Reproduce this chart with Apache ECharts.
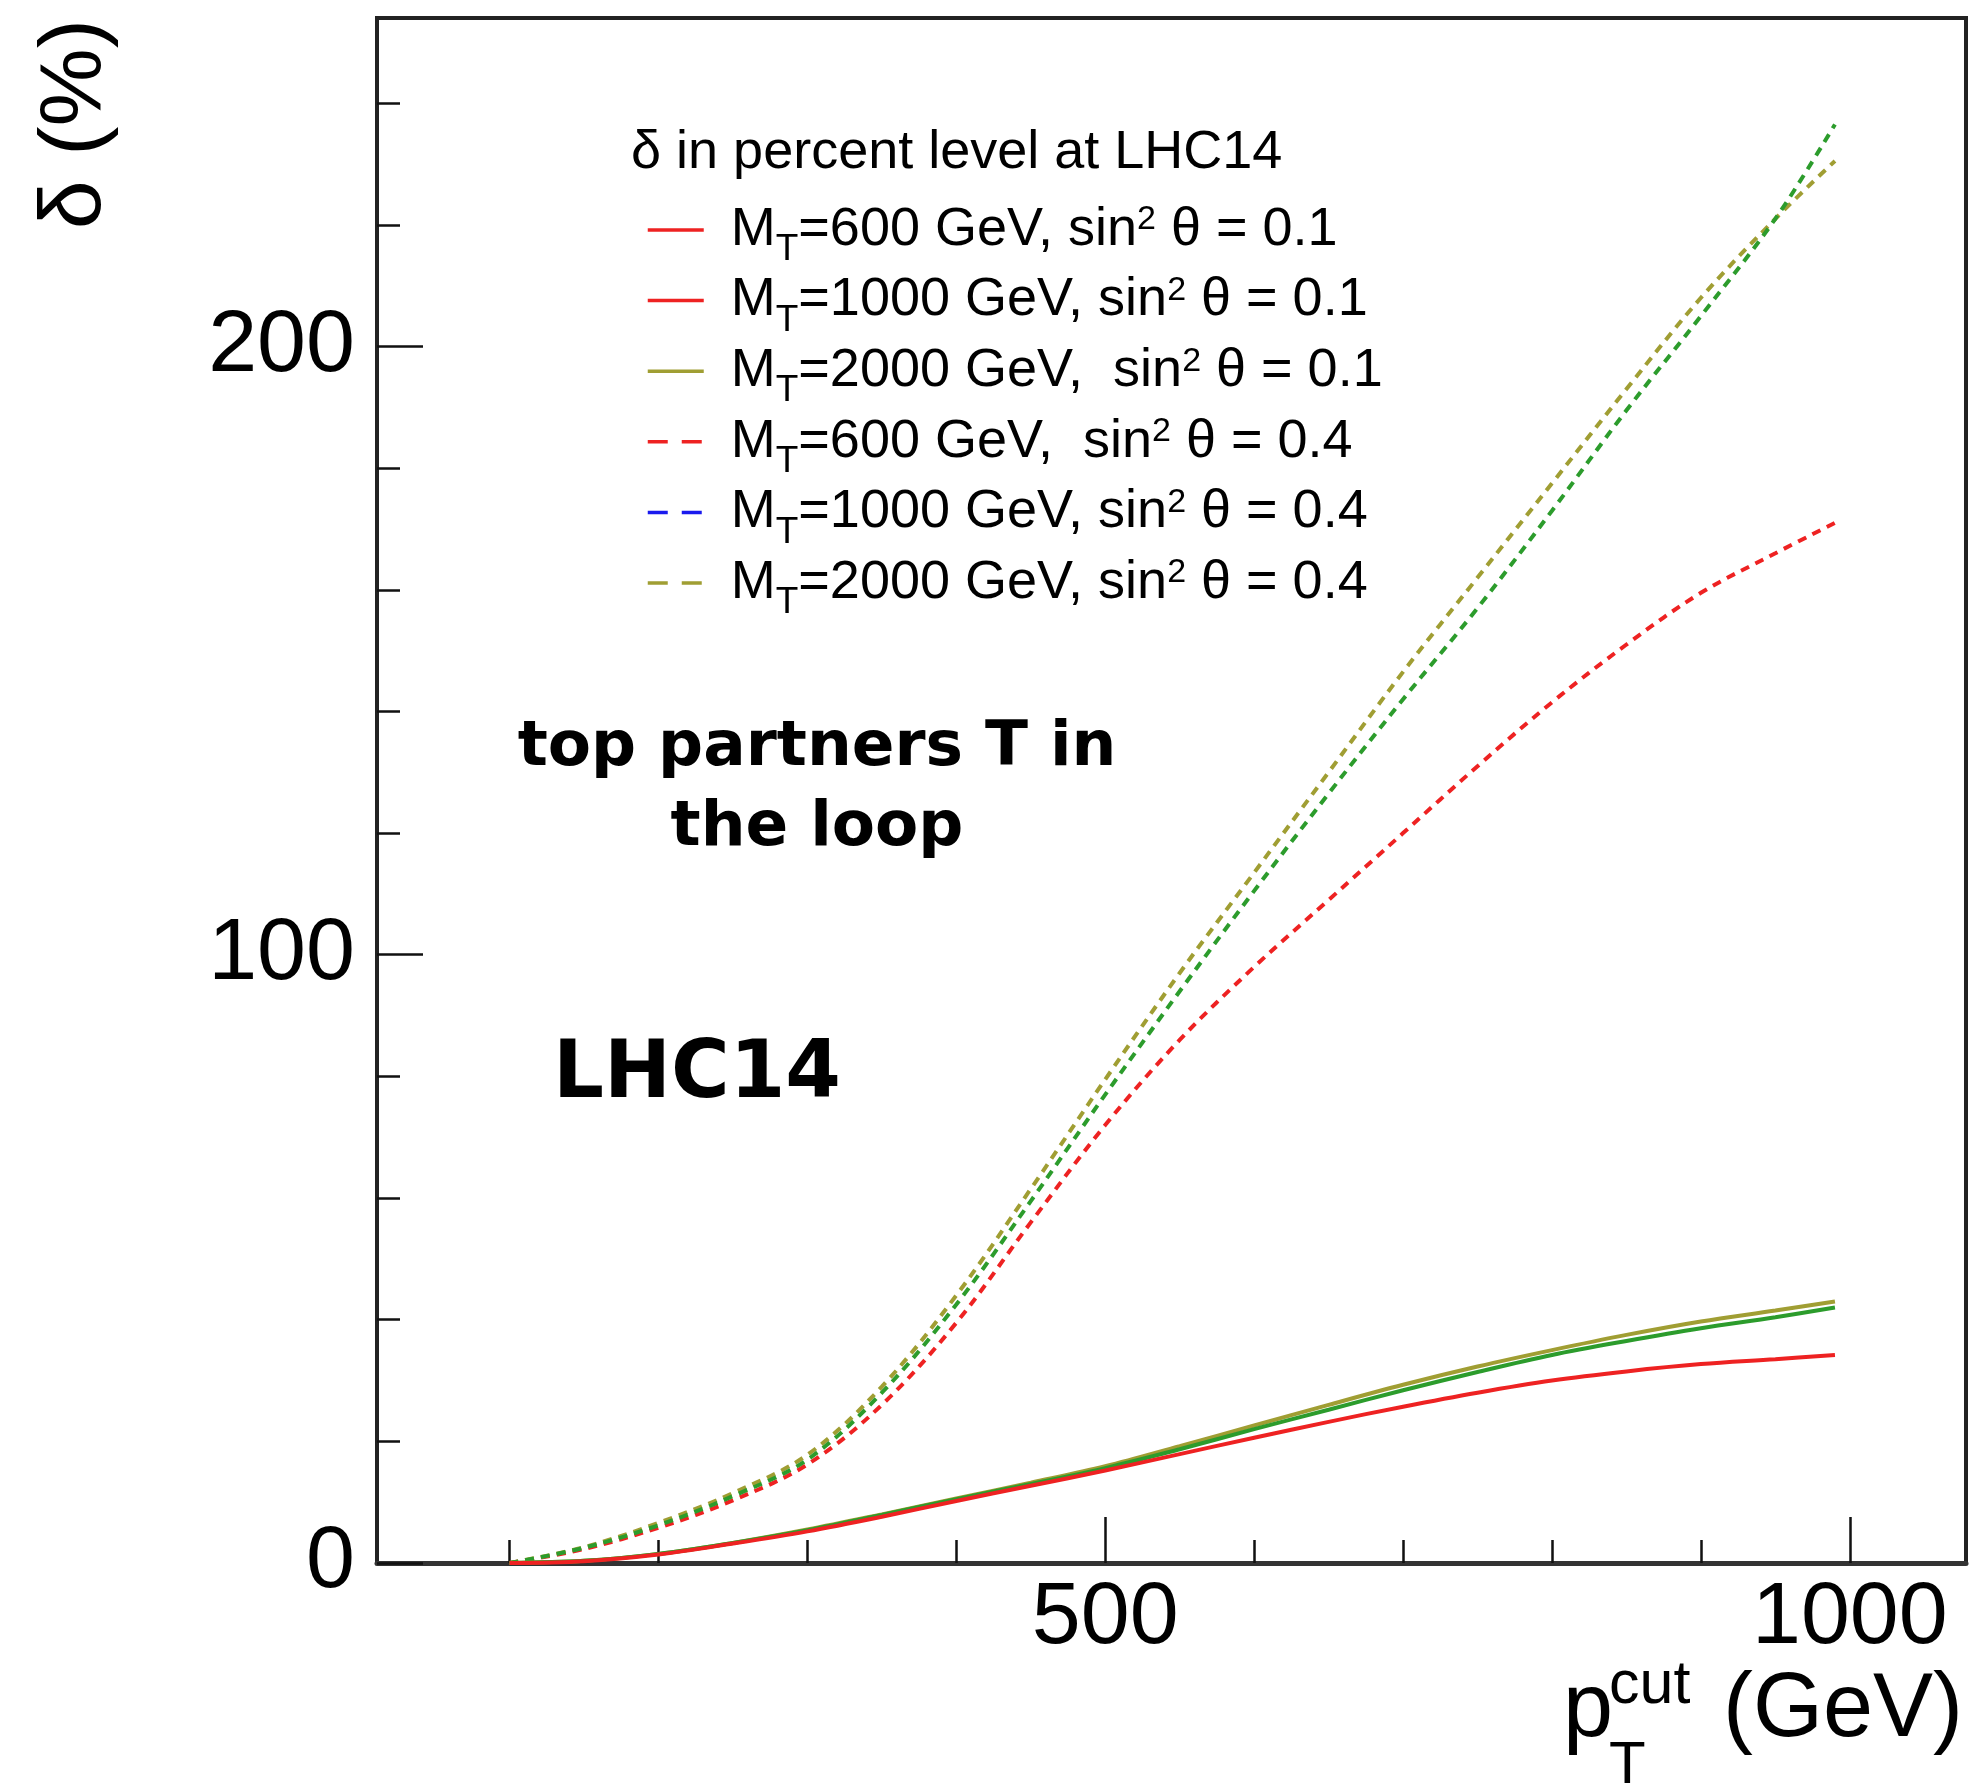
<!DOCTYPE html>
<html>
<head>
<meta charset="utf-8">
<script src="https://cdn.jsdelivr.net/npm/echarts@6/dist/echarts.min.js"></script>
<style>
html,body{margin:0;padding:0;background:#ffffff;}
#chart{width:1972px;height:1787px;}
</style>
</head>
<body>
<div id="chart"></div>
<script>
// ---- data ----
const pT = [100,150,200,250,300,350,400,450,500,550,600,650,700,750,800,850,900,950,990];

// sin^2(theta) = 0.1 (solid)
const mt600_s01  = [0,0.3,1.4,3.2,5.2,7.6,10.2,12.7,15.2,17.9,20.6,23.2,25.7,28.0,30.0,31.5,32.7,33.5,34.2];
const mt1000_s01 = [0,0.35,1.5,3.3,5.4,7.9,10.5,13.0,15.6,18.7,22.0,25.2,28.4,31.4,34.2,36.5,38.6,40.4,42.0];
const mt2000_s01 = [0,0.35,1.5,3.3,5.5,8.0,10.6,13.2,15.9,19.2,22.6,26.0,29.3,32.3,35.0,37.5,39.7,41.5,43.0];

// sin^2(theta) = 0.4 (dashed)
const mt600_s04  = [0,2.3,5.8,10.3,16.2,26.0,39.5,56.0,72.0,86.0,98.0,109.0,120.0,131.0,141.5,151.0,159.5,166.0,171.0];
const mt1000_s04 = [0,2.5,6.2,11.0,17.0,28.0,42.5,59.5,77.0,94.0,110.5,126.5,142.0,157.0,173.0,189.5,205.0,221.0,236.5];
const mt2000_s04 = [0,2.6,6.6,11.5,17.8,29.0,44.0,61.5,79.5,97.0,113.5,130.0,146.5,162.0,177.5,193.0,208.0,221.0,230.5];

const xMajorTicks = [500,1000];
const xMinorTicks = [100,200,300,400,600,700,800,900];
const yMajorTicks = [0,100,200];
const yMinorTicks = [20,40,60,80,120,140,160,180,220,240];

const seriesNames = [
  'MT=600 GeV, sin2 theta = 0.1',
  'MT=1000 GeV, sin2 theta = 0.1',
  'MT=2000 GeV, sin2 theta = 0.1',
  'MT=600 GeV, sin2 theta = 0.4',
  'MT=1000 GeV, sin2 theta = 0.4',
  'MT=2000 GeV, sin2 theta = 0.4'
];
const legendLabels = [
  'M{sub|T}=600 GeV, sin{sup|2} θ = 0.1',
  'M{sub|T}=1000 GeV, sin{sup|2} θ = 0.1',
  'M{sub|T}=2000 GeV,  sin{sup|2} θ = 0.1',
  'M{sub|T}=600 GeV,  sin{sup|2} θ = 0.4',
  'M{sub|T}=1000 GeV, sin{sup|2} θ = 0.4',
  'M{sub|T}=2000 GeV, sin{sup|2} θ = 0.4'
];
const legendTitle = 'δ in percent level at LHC14';
const yTitle = 'δ (%)';
const noteLines = 'top partners T in\nthe loop';
const noteBig = 'LHC14';

// ---- styling ----
const RED = '#ee2222', GREEN = '#2c9c2c', OLIVE = '#a09e33', BLUE = '#1a1aee';
const FONT = '"Liberation Sans", Arial, Helvetica, sans-serif';
const DASH = [9, 7];

function pairs(ys){ return pT.map((x,i)=>[x, ys[i]]); }
function mkLine(name, ys, color, dashed){
  return {
    name: name, type: 'line', data: pairs(ys), smooth: 0.35,
    symbol: 'none', showSymbol: false, clip: true,
    lineStyle: {color: color, width: 4, type: dashed ? DASH : 'solid'},
    itemStyle: {color: color},
    emphasis: {disabled: true}
  };
}
const hiddenDot = {opacity: 0, color: 'rgba(0,0,0,0)', borderWidth: 0};

const chart = echarts.init(document.getElementById('chart'), null, {renderer: 'canvas'});
const option = {
  animation: false,
  backgroundColor: '#ffffff',
  grid: {left: 377, top: 18, right: 6, bottom: 224, show: true, borderColor: '#222', borderWidth: 4,
         containLabel: false, outerBoundsMode: 'none'},
  xAxis: [
    {type: 'value', min: 11, max: 1078, position: 'bottom',
     axisLine: {show: true, onZero: false, lineStyle: {color: '#333', width: 5}},
     axisTick: {show: true, inside: true, length: 46, customValues: xMajorTicks, lineStyle: {color: '#111', width: 2.5}},
     axisLabel: {show: true, customValues: xMajorTicks, fontSize: 88, fontFamily: FONT, color: '#000', margin: 12,
                 formatter: function(v){ return String(v); }},
     splitLine: {show: false}},
    {type: 'value', min: 11, max: 1078, position: 'bottom',
     axisLine: {show: false},
     axisTick: {show: true, inside: true, length: 23, customValues: xMinorTicks, lineStyle: {color: '#111', width: 2.5}},
     axisLabel: {show: false},
     splitLine: {show: false}}
  ],
  yAxis: [
    {type: 'value', min: 0, max: 254, position: 'left',
     axisLine: {show: true, onZero: false, lineStyle: {color: '#222', width: 4}},
     axisTick: {show: true, inside: true, length: 46, customValues: yMajorTicks, lineStyle: {color: '#111', width: 2.5}},
     axisLabel: {show: true, customValues: yMajorTicks, fontSize: 88, fontFamily: FONT, color: '#000', margin: 22,
                 formatter: function(v){ return String(v); }},
     splitLine: {show: false}},
    {type: 'value', min: 0, max: 254, position: 'left',
     axisLine: {show: false},
     axisTick: {show: true, inside: true, length: 23, customValues: yMinorTicks, lineStyle: {color: '#111', width: 2.5}},
     axisLabel: {show: false},
     splitLine: {show: false}}
  ],
  legend: {
    show: true, orient: 'vertical', left: 641, top: 195,
    itemWidth: 56, itemHeight: 14, itemGap: 2.1,
    selectedMode: false,
    itemStyle: hiddenDot,
    data: [
      {name: seriesNames[0], itemStyle: hiddenDot, lineStyle: {color: RED, type: 'solid', width: 3.5}},
      {name: seriesNames[1], itemStyle: hiddenDot, lineStyle: {color: RED, type: 'solid', width: 3.5}},
      {name: seriesNames[2], itemStyle: hiddenDot, lineStyle: {color: OLIVE, type: 'solid', width: 3.5}},
      {name: seriesNames[3], itemStyle: hiddenDot, lineStyle: {color: RED, type: [20, 14], width: 3.5}},
      {name: seriesNames[4], itemStyle: hiddenDot, lineStyle: {color: BLUE, type: [20, 14], width: 3.5}},
      {name: seriesNames[5], itemStyle: hiddenDot, lineStyle: {color: OLIVE, type: [20, 14], width: 3.5}}
    ],
    formatter: function(name){ return legendLabels[seriesNames.indexOf(name)]; },
    textStyle: {
      fontFamily: FONT, fontSize: 54, color: '#000', lineHeight: 60, padding: [0,0,0,22],
      rich: {
        sub: {fontFamily: FONT, fontSize: 37, color: '#000', verticalAlign: 'bottom', height: 20},
        sup: {fontFamily: FONT, fontSize: 34, color: '#000', verticalAlign: 'top', height: 40}
      }
    }
  },
  series: [
    mkLine(seriesNames[3], mt600_s04, RED, true),
    mkLine(seriesNames[5], mt2000_s04, OLIVE, true),
    mkLine(seriesNames[4], mt1000_s04, GREEN, true),
    mkLine(seriesNames[2], mt2000_s01, OLIVE, false),
    mkLine(seriesNames[1], mt1000_s01, GREEN, false),
    mkLine(seriesNames[0], mt600_s01, RED, false)
  ],
  graphic: [
    {type: 'text', x: 631, y: 153, z: 10,
     style: {text: legendTitle, fontFamily: FONT, fontSize: 54, fill: '#000',
             textAlign: 'left', textVerticalAlign: 'middle', align: 'left', verticalAlign: 'middle'}},
    {type: 'text', x: 76, y: 124, rotation: Math.PI / 2, z: 10,
     style: {text: yTitle, fontFamily: FONT, fontSize: 88, fill: '#000',
             textAlign: 'center', textVerticalAlign: 'middle', align: 'center', verticalAlign: 'middle'}},
    {type: 'text', x: 1563, y: 1711, z: 10,
     style: {text: 'p', fontFamily: FONT, fontSize: 90, fill: '#000',
             textAlign: 'left', textVerticalAlign: 'middle', align: 'left', verticalAlign: 'middle'}},
    {type: 'text', x: 1609, y: 1686, z: 10,
     style: {text: 'cut', fontFamily: FONT, fontSize: 61, fill: '#000',
             textAlign: 'left', textVerticalAlign: 'middle', align: 'left', verticalAlign: 'middle'}},
    {type: 'text', x: 1609, y: 1766, z: 10,
     style: {text: 'T', fontFamily: FONT, fontSize: 60, fill: '#000',
             textAlign: 'left', textVerticalAlign: 'middle', align: 'left', verticalAlign: 'middle'}},
    {type: 'text', x: 1723, y: 1711, z: 10,
     style: {text: '(GeV)', fontFamily: FONT, fontSize: 90, fill: '#000',
             textAlign: 'left', textVerticalAlign: 'middle', align: 'left', verticalAlign: 'middle'}},
    {type: 'text', x: 817, y: 789, z: 10,
     style: {text: noteLines, fontFamily: '"DejaVu Sans", sans-serif', fontWeight: 'bold', fontSize: 63, lineHeight: 80, fill: '#000',
             textAlign: 'center', textVerticalAlign: 'middle', align: 'center', verticalAlign: 'middle'}},
    {type: 'text', x: 553, y: 1076, z: 10,
     style: {text: noteBig, fontFamily: '"DejaVu Sans", sans-serif', fontWeight: 'bold', fontSize: 80, fill: '#000',
             textAlign: 'left', textVerticalAlign: 'middle', align: 'left', verticalAlign: 'middle'}}
  ]
};
chart.setOption(option);
</script>
</body>
</html>
